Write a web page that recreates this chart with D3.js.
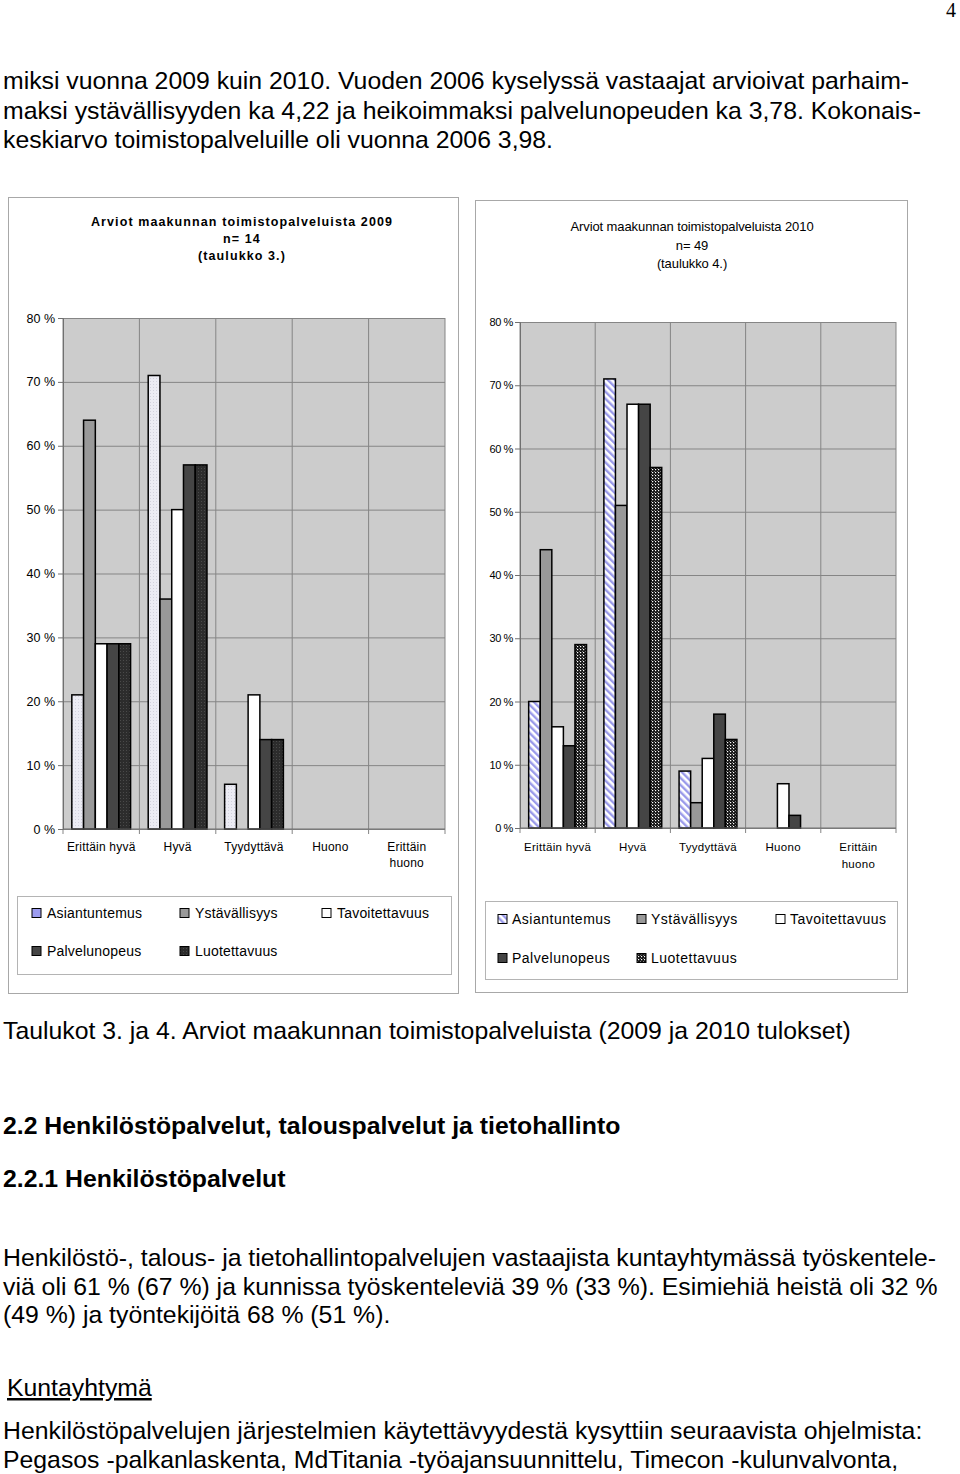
<!DOCTYPE html>
<html>
<head>
<meta charset="utf-8">
<script src="https://cdn.jsdelivr.net/npm/d3@7"></script>
<style>
  body { margin: 0; background: #fff; }
  svg { display: block; }
</style>
</head>
<body>
<div id="page"></div>
<script>
// ---- data ----
const categories = ["Erittäin hyvä", "Hyvä", "Tyydyttävä", "Huono", "Erittäin huono"];
const tickLabels = [["Erittäin hyvä"], ["Hyvä"], ["Tyydyttävä"], ["Huono"], ["Erittäin", "huono"]];
const series = ["Asiantuntemus", "Ystävällisyys", "Tavoitettavuus", "Palvelunopeus", "Luotettavuus"];
const yTicks = [0, 10, 20, 30, 40, 50, 60, 70, 80];

// 2009 (n = 14), percent per category
const asiantuntemus2009 = [21, 71, 7, 0, 0];
const ystavallisyys2009 = [64, 36, 0, 0, 0];
const tavoitettavuus2009 = [29, 50, 21, 0, 0];
const palvelunopeus2009 = [29, 57, 14, 0, 0];
const luotettavuus2009 = [29, 57, 14, 0, 0];

// 2010 (n = 49)
const asiantuntemus2010 = [20, 71, 9, 0, 0];
const ystavallisyys2010 = [44, 51, 4, 0, 0];
const tavoitettavuus2010 = [16, 67, 11, 7, 0];
const palvelunopeus2010 = [13, 67, 18, 2, 0];
const luotettavuus2010 = [29, 57, 14, 0, 0];

const title2009 = ["Arviot maakunnan toimistopalveluista 2009", "n= 14", "(taulukko 3.)"];
const title2010 = ["Arviot maakunnan toimistopalveluista 2010", "n= 49", "(taulukko 4.)"];

const topText = [
  "miksi vuonna 2009 kuin 2010. Vuoden 2006 kyselyssä vastaajat arvioivat parhaim-",
  "maksi ystävällisyyden ka 4,22 ja heikoimmaksi palvelunopeuden ka 3,78. Kokonais-",
  "keskiarvo toimistopalveluille oli vuonna 2006 3,98."
];
const caption = "Taulukot 3. ja 4. Arviot maakunnan toimistopalveluista (2009 ja 2010 tulokset)";
const heading1 = "2.2 Henkilöstöpalvelut, talouspalvelut ja tietohallinto";
const heading2 = "2.2.1 Henkilöstöpalvelut";
const para1 = [
  "Henkilöstö-, talous- ja tietohallintopalvelujen vastaajista kuntayhtymässä työskentele-",
  "viä oli 61 % (67 %) ja kunnissa työskenteleviä 39 % (33 %). Esimiehiä heistä oli 32 %",
  "(49 %) ja työntekijöitä 68 % (51 %)."
];
const subHeading = "Kuntayhtymä";
const para2 = [
  "Henkilöstöpalvelujen järjestelmien käytettävyydestä kysyttiin seuraavista ohjelmista:",
  "Pegasos -palkanlaskenta, MdTitania -työajansuunnittelu, Timecon -kulunvalvonta,"
];

const svg = d3.select("#page").append("svg")
  .attr("width", 960)
  .attr("height", 1474);

const font = "'Liberation Sans', Arial, Helvetica, sans-serif";

// ---- patterns ----
const defs = svg.append("defs");

const pa = defs.append("pattern").attr("id", "dots09")
  .attr("patternUnits", "userSpaceOnUse").attr("width", 3).attr("height", 3);
pa.append("rect").attr("width", 3).attr("height", 3).attr("fill", "#ececf4");
pa.append("rect").attr("width", 1).attr("height", 1).attr("fill", "#d2d2de");

const pd = defs.append("pattern").attr("id", "dark09")
  .attr("patternUnits", "userSpaceOnUse").attr("width", 3).attr("height", 3);
pd.append("rect").attr("width", 3).attr("height", 3).attr("fill", "#2c2c2c");
pd.append("rect").attr("width", 1).attr("height", 1).attr("fill", "#4a4a4a");

const ps = defs.append("pattern").attr("id", "stripes10")
  .attr("patternUnits", "userSpaceOnUse").attr("width", 5).attr("height", 5)
  .attr("patternTransform", "rotate(-45)");
ps.append("rect").attr("width", 5).attr("height", 5).attr("fill", "#ffffff");
ps.append("rect").attr("width", 2.4).attr("height", 5).attr("fill", "#9a9aea");

const pc = defs.append("pattern").attr("id", "check10")
  .attr("patternUnits", "userSpaceOnUse").attr("width", 3).attr("height", 3);
pc.append("rect").attr("width", 3).attr("height", 3).attr("fill", "#141414");
pc.append("rect").attr("x", 1).attr("y", 1).attr("width", 1.2).attr("height", 1.2).attr("fill", "#ffffff");
pc.append("rect").attr("x", 0).attr("y", 0).attr("width", 0.8).attr("height", 0.8).attr("fill", "#bbbbbb");

// ---- chart ----
function drawChart(cfg) {
  const g = svg.append("g");
  const { left, right, top, bottom } = cfg.plot;

  // outer frame
  g.append("rect")
    .attr("x", cfg.box.x + 0.5).attr("y", cfg.box.y + 0.5)
    .attr("width", cfg.box.w).attr("height", cfg.box.h)
    .attr("fill", "#fff").attr("stroke", "#a8a8a8");

  // title
  g.selectAll(".title").data(cfg.title).enter().append("text")
    .attr("x", cfg.titleX)
    .attr("y", (d, i) => cfg.titleY[i])
    .attr("text-anchor", "middle")
    .attr("font-family", font)
    .attr("font-size", cfg.titleSize)
    .attr("font-weight", cfg.titleWeight)
    .attr("letter-spacing", cfg.titleSpacing)
    .attr("fill", "#000")
    .text(d => d);

  const x0 = d3.scaleBand().domain(categories).range([left, right]);
  const x1 = d3.scaleBand().domain(series).range([0, x0.bandwidth()]).paddingOuter(0.75);
  const y = d3.scaleLinear().domain([0, 80]).range([bottom, top]);

  // plot background
  g.append("rect")
    .attr("x", left).attr("y", top)
    .attr("width", right - left).attr("height", bottom - top)
    .attr("fill", "#cccccc");

  // horizontal gridlines
  g.append("g")
    .attr("transform", `translate(${left},0)`)
    .call(d3.axisLeft(y).tickValues(yTicks).tickSize(-(right - left)).tickFormat(""))
    .call(a => a.select(".domain").remove())
    .selectAll("line").attr("stroke", "#858585");

  // vertical gridlines (category boundaries), extending below as ticks
  const bounds = categories.map(c => x0(c)).concat([right]);
  g.append("g").selectAll("line").data(bounds).enter().append("line")
    .attr("x1", d => d).attr("x2", d => d)
    .attr("y1", top).attr("y2", bottom + 5)
    .attr("stroke", "#858585");

  // bars
  const bars = [];
  categories.forEach((c, i) => {
    series.forEach((s, j) => {
      const v = cfg.values[j][i];
      if (v > 0) bars.push({ c, s, v, fill: cfg.fills[j] });
    });
  });
  g.append("g").selectAll("rect").data(bars).enter().append("rect")
    .attr("x", d => x0(d.c) + x1(d.s))
    .attr("y", d => y(d.v))
    .attr("width", x1.bandwidth())
    .attr("height", d => y(0) - y(d.v))
    .attr("fill", d => d.fill)
    .attr("stroke", "#000")
    .attr("stroke-width", 1.5);

  // y axis
  const ya = g.append("g")
    .attr("transform", `translate(${left},0)`)
    .call(d3.axisLeft(y).tickValues(yTicks).tickSize(5).tickPadding(cfg.tickPad).tickFormat(d => d + " %"));
  ya.select(".domain").attr("stroke", "#707070");
  ya.selectAll(".tick line").attr("stroke", "#707070");
  ya.selectAll("text")
    .attr("font-family", font)
    .attr("font-size", cfg.tickSize)
    .attr("letter-spacing", cfg.tickSpacing)
    .attr("fill", "#000");

  // baseline
  g.append("line")
    .attr("x1", left).attr("x2", right)
    .attr("y1", bottom).attr("y2", bottom)
    .attr("stroke", "#707070");

  // category labels
  const xa = g.append("g")
    .attr("transform", `translate(0,${bottom})`)
    .call(d3.axisBottom(x0).tickSize(0).tickFormat(""));
  xa.select(".domain").remove();
  xa.selectAll(".tick").each(function (d, i) {
    const t = d3.select(this).append("text")
      .attr("text-anchor", "middle")
      .attr("font-family", font)
      .attr("font-size", cfg.catSize)
      .attr("letter-spacing", cfg.catSpacing)
      .attr("fill", "#000");
    tickLabels[i].forEach((line, k) => {
      t.append("tspan").attr("x", 0).attr("y", cfg.catY[k]).text(line);
    });
  });

  // legend
  const lb = cfg.legend;
  g.append("rect")
    .attr("x", lb.x + 0.5).attr("y", lb.y + 0.5)
    .attr("width", lb.w).attr("height", lb.h)
    .attr("fill", "#fff").attr("stroke", "#b4b4b4");
  const items = g.append("g").selectAll("g").data(series).enter().append("g")
    .attr("transform", (d, i) => `translate(${lb.cols[i % 3]},${lb.rows[Math.floor(i / 3)]})`);
  items.append("rect")
    .attr("x", 0).attr("y", -4.5)
    .attr("width", 9).attr("height", 9)
    .attr("fill", (d, i) => cfg.legendFills[i])
    .attr("stroke", "#000").attr("stroke-width", 1);
  items.append("text")
    .attr("x", lb.textDx).attr("y", 5)
    .attr("font-family", font)
    .attr("font-size", lb.size)
    .attr("letter-spacing", lb.spacing)
    .attr("fill", "#000")
    .text(d => d);
}

drawChart({
  box: { x: 8, y: 197, w: 450, h: 796 },
  plot: { left: 63, right: 445, top: 318, bottom: 829 },
  title: title2009, titleX: 242, titleY: [226, 243, 260],
  titleSize: 12.5, titleWeight: "bold", titleSpacing: 1.1,
  tickSize: 12.5, tickSpacing: 0, tickPad: 3,
  catSize: 12, catSpacing: 0.2, catY: [22, 38],
  values: [asiantuntemus2009, ystavallisyys2009, tavoitettavuus2009, palvelunopeus2009, luotettavuus2009],
  fills: ["url(#dots09)", "#999999", "#ffffff", "#454545", "url(#dark09)"],
  legendFills: ["#9c9cf0", "#999999", "#ffffff", "#454545", "url(#dark09)"],
  legend: { x: 17, y: 896, w: 434, h: 78, cols: [32, 180, 322], rows: [913, 951], textDx: 15, size: 14, spacing: 0.2 }
});

drawChart({
  box: { x: 475, y: 200, w: 432, h: 792 },
  plot: { left: 520, right: 896, top: 322, bottom: 828 },
  title: title2010, titleX: 692, titleY: [231, 250, 268],
  titleSize: 13, titleWeight: "normal", titleSpacing: -0.1,
  tickSize: 11, tickSpacing: -0.4, tickPad: 2,
  catSize: 11.5, catSpacing: 0.3, catY: [23, 40],
  values: [asiantuntemus2010, ystavallisyys2010, tavoitettavuus2010, palvelunopeus2010, luotettavuus2010],
  fills: ["url(#stripes10)", "#999999", "#ffffff", "#454545", "url(#check10)"],
  legendFills: ["url(#stripes10)", "#999999", "#ffffff", "#454545", "url(#check10)"],
  legend: { x: 485, y: 901, w: 412, h: 78, cols: [498, 637, 776], rows: [919, 958], textDx: 14, size: 14, spacing: 0.5 }
});

// ---- page text ----
function textLines(lines, x, y0, dy, opts = {}) {
  svg.append("g").selectAll("text").data(lines).enter().append("text")
    .attr("x", x)
    .attr("y", (d, i) => y0 + i * dy)
    .attr("font-family", font)
    .attr("font-size", opts.size || 24.8)
    .attr("font-weight", opts.weight || "normal")
    .attr("text-decoration", opts.decoration || "none")
    .attr("fill", "#000")
    .text(d => d);
}

svg.append("text")
  .attr("x", 956).attr("y", 17)
  .attr("text-anchor", "end")
  .attr("font-family", "'Liberation Serif', 'Times New Roman', serif")
  .attr("font-size", 20)
  .text("4");

textLines(topText, 3, 89, 29.5);
textLines([caption], 3, 1039, 0);
textLines([heading1], 3, 1134, 0, { weight: "bold" });
textLines([heading2], 3, 1187, 0, { weight: "bold" });
textLines(para1, 3, 1266, 28.5);
textLines([subHeading], 7, 1396, 0, { decoration: "underline" });
textLines(para2, 3, 1439, 29);
</script>
</body>
</html>
